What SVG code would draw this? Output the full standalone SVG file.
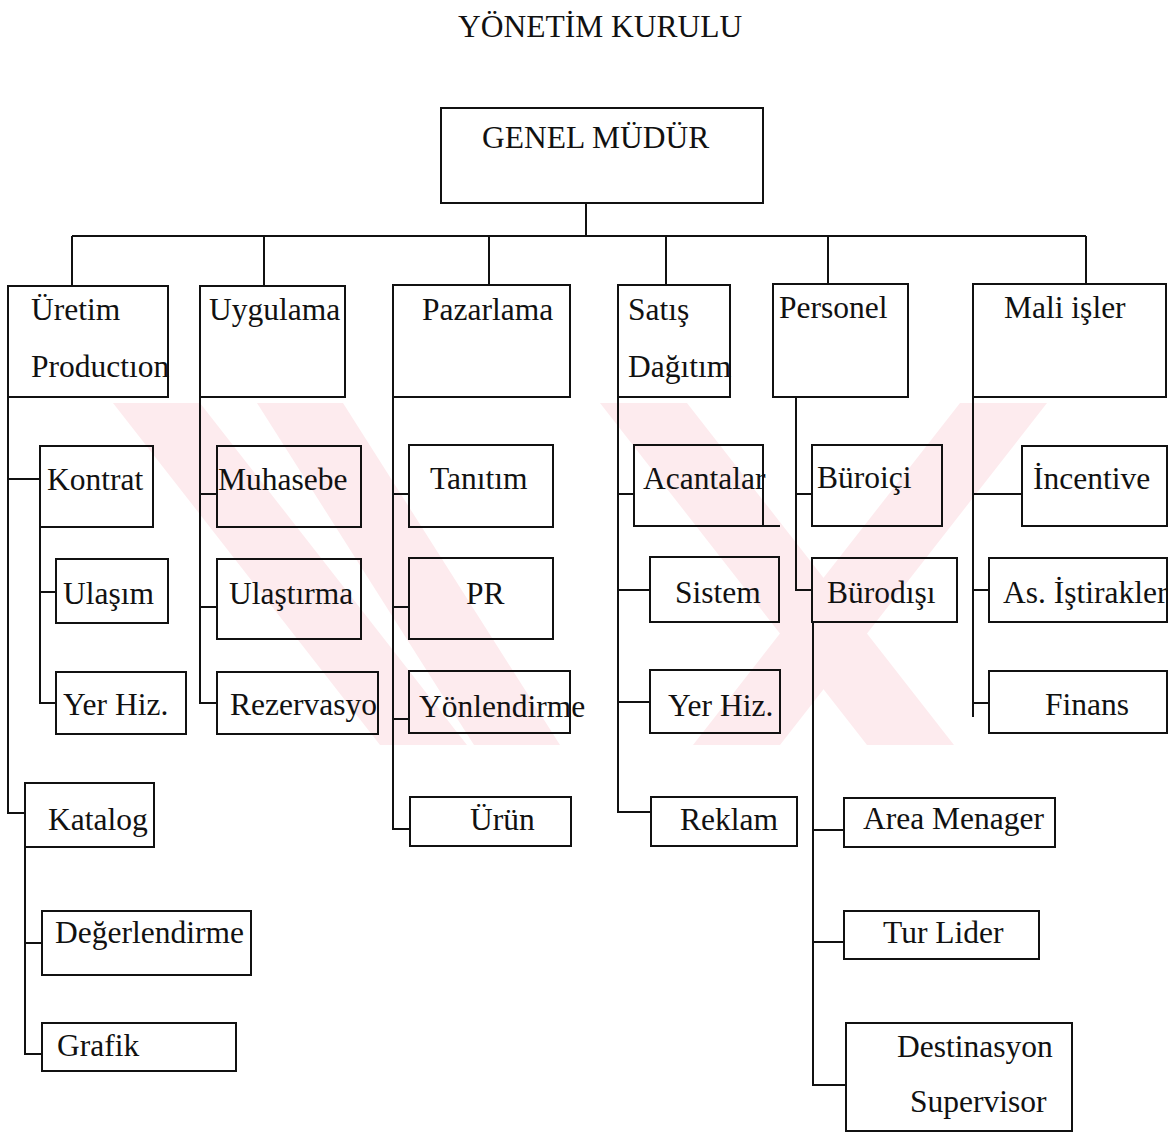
<svg xmlns="http://www.w3.org/2000/svg" width="1176" height="1133" viewBox="0 0 1176 1133">
  <style>
    .box { fill: none; stroke: #111; stroke-width: 2; }
    .ln { fill: none; stroke: #111; stroke-width: 2; }
    text { font-family: "Liberation Serif", "Times New Roman", serif; font-size: 31.5px; fill: #111; }
    .wm { fill: #fdebee; }
  </style>
  <rect x="0" y="0" width="1176" height="1133" fill="#ffffff"/>

  <!-- background emblem -->
  <g id="emblem">
    <polygon class="wm" points="113,403 200,403 467,745 380,745"/>
    <polygon class="wm" points="257,403 343,403 560,745 474,745"/>
    <polygon class="wm" points="600,403 687,403 954,745 867,745"/>
    <polygon class="wm" points="960,403 1047,403 780,745 693,745"/>
  </g>

  <text id="board" x="458" y="37">YÖNETİM KURULU</text>

  <!-- connectors -->
  <g id="connectors">
    <path class="ln" d="M586,203 V236 M72,236 H1086 M72,236 V286 M264,236 V286 M489,236 V285 M666,236 V285 M828,236 V284 M1086,236 V284"/>
    <!-- Üretim -->
    <path class="ln" d="M8,397 V813 H25 M8,479 H40 M40,527 V703 H56 M40,592 H56 M25,847 V1054 H42 M25,943 H42"/>
    <!-- Uygulama -->
    <path class="ln" d="M200,397 V703 H217 M200,494 H217 M200,607 H217"/>
    <!-- Pazarlama -->
    <path class="ln" d="M393,397 V829 H410 M393,494 H409 M393,607 H409 M393,719 H409"/>
    <!-- Satış Dağıtım -->
    <path class="ln" d="M618,397 V812 H651 M618,494 H634 M618,590 H650 M618,702 H650 M763,526 H780"/>
    <!-- Personel -->
    <path class="ln" d="M796,397 V590 H812 M796,494 H812 M813,622 V1085 H846 M813,830 H844 M813,942 H844"/>
    <!-- Mali işler -->
    <path class="ln" d="M973,397 V717 M973,494 H1022 M973,590 H989 M973,703 H989"/>
  </g>

  <g id="genel-mudur">
    <rect class="box" x="441" y="108" width="322" height="95"/>
    <text x="482" y="148">GENEL MÜDÜR</text>
  </g>

  <g id="uretim">
    <rect class="box" x="8" y="286" width="160" height="111"/>
    <text x="31" y="320">Üretim</text>
    <text x="31" y="377">Productıon</text>
  </g>
  <g id="uygulama">
    <rect class="box" x="200" y="286" width="145" height="111"/>
    <text x="209" y="320">Uygulama</text>
  </g>
  <g id="pazarlama">
    <rect class="box" x="393" y="285" width="177" height="112"/>
    <text x="422" y="320">Pazarlama</text>
  </g>
  <g id="satis-dagitim">
    <rect class="box" x="618" y="285" width="112" height="112"/>
    <text x="628" y="320">Satış</text>
    <text x="628" y="377">Dağıtım</text>
  </g>
  <g id="personel">
    <rect class="box" x="773" y="284" width="135" height="113"/>
    <text x="779" y="318">Personel</text>
  </g>
  <g id="mali-isler">
    <rect class="box" x="973" y="284" width="193" height="113"/>
    <text x="1004" y="318">Mali işler</text>
  </g>

  <!-- Üretim units -->
  <g id="kontrat">
    <rect class="box" x="40" y="446" width="113" height="81"/>
    <text x="47" y="490">Kontrat</text>
  </g>
  <g id="ulasim">
    <rect class="box" x="56" y="559" width="112" height="64"/>
    <text x="63" y="604">Ulaşım</text>
  </g>
  <g id="yer-hiz-1">
    <rect class="box" x="56" y="672" width="130" height="62"/>
    <text x="63" y="715">Yer Hiz.</text>
  </g>
  <g id="katalog">
    <rect class="box" x="25" y="783" width="129" height="64"/>
    <text x="48" y="830">Katalog</text>
  </g>
  <g id="degerlendirme">
    <rect class="box" x="42" y="911" width="209" height="64"/>
    <text x="55" y="943">Değerlendirme</text>
  </g>
  <g id="grafik">
    <rect class="box" x="42" y="1023" width="194" height="48"/>
    <text x="57" y="1056">Grafik</text>
  </g>

  <!-- Uygulama units -->
  <g id="muhasebe">
    <rect class="box" x="217" y="446" width="144" height="81"/>
    <text x="218" y="490">Muhasebe</text>
  </g>
  <g id="ulastirma">
    <rect class="box" x="217" y="559" width="144" height="80"/>
    <text x="229" y="604">Ulaştırma</text>
  </g>
  <g id="rezervasyon">
    <rect class="box" x="217" y="672" width="161" height="62"/>
    <text x="230" y="715">Rezervasyo</text>
  </g>

  <!-- Pazarlama units -->
  <g id="tanitim">
    <rect class="box" x="409" y="445" width="144" height="82"/>
    <text x="430" y="489">Tanıtım</text>
  </g>
  <g id="pr">
    <rect class="box" x="409" y="558" width="144" height="81"/>
    <text x="466" y="604">PR</text>
  </g>
  <g id="yonlendirme">
    <rect class="box" x="409" y="671" width="161" height="62"/>
    <text x="419" y="717">Yönlendirme</text>
  </g>
  <g id="urun">
    <rect class="box" x="410" y="797" width="161" height="49"/>
    <text x="470" y="830">Ürün</text>
  </g>

  <!-- Satış Dağıtım units -->
  <g id="acantalar">
    <rect class="box" x="634" y="445" width="129" height="81"/>
    <text x="643" y="489">Acantalar</text>
  </g>
  <g id="sistem">
    <rect class="box" x="650" y="557" width="129" height="65"/>
    <text x="675" y="603">Sistem</text>
  </g>
  <g id="yer-hiz-2">
    <rect class="box" x="650" y="670" width="130" height="63"/>
    <text x="668" y="716">Yer Hiz.</text>
  </g>
  <g id="reklam">
    <rect class="box" x="651" y="797" width="146" height="49"/>
    <text x="680" y="830">Reklam</text>
  </g>

  <!-- Personel units -->
  <g id="buroici">
    <rect class="box" x="812" y="445" width="130" height="81"/>
    <text x="817" y="488">Büroiçi</text>
  </g>
  <g id="burodisi">
    <rect class="box" x="812" y="558" width="145" height="64"/>
    <text x="827" y="603">Bürodışı</text>
  </g>
  <g id="area-menager">
    <rect class="box" x="844" y="798" width="211" height="49"/>
    <text x="863" y="829">Area Menager</text>
  </g>
  <g id="tur-lider">
    <rect class="box" x="844" y="911" width="195" height="48"/>
    <text x="883" y="943">Tur Lider</text>
  </g>
  <g id="destinasyon-supervisor">
    <rect class="box" x="846" y="1023" width="226" height="108"/>
    <text x="897" y="1057">Destinasyon</text>
    <text x="910" y="1112">Supervisor</text>
  </g>

  <!-- Mali işler units -->
  <g id="incentive">
    <rect class="box" x="1022" y="446" width="145" height="80"/>
    <text x="1033" y="489">İncentive</text>
  </g>
  <g id="istirakler">
    <rect class="box" x="989" y="558" width="178" height="64"/>
    <text x="1003" y="603">As. İştirakler</text>
  </g>
  <g id="finans">
    <rect class="box" x="989" y="671" width="178" height="62"/>
    <text x="1045" y="715">Finans</text>
  </g>
</svg>
